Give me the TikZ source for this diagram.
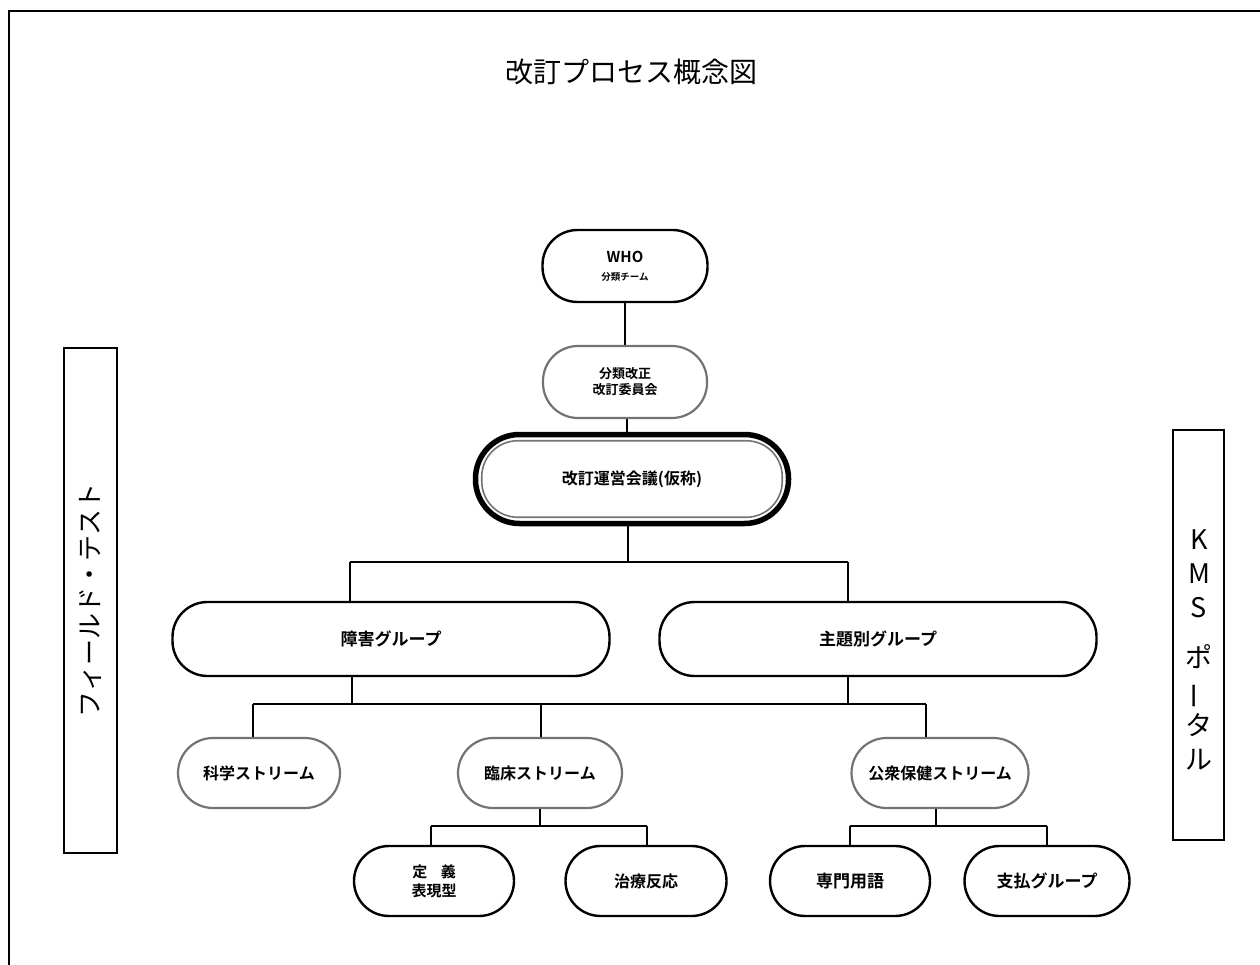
\documentclass[tikz,border=0pt]{standalone}
\usepackage{fontspec}
\usepackage{graphicx}
\setmainfont{Noto Sans CJK JP}[BoldFont={Noto Sans CJK JP Bold}]
\begin{document}
\begin{tikzpicture}[x=1pt,y=-1pt,
  pill/.style={draw=black, line width=2.4pt, rounded corners=35pt, inner sep=0pt, align=center, font=\bfseries\fontsize{16}{20}\selectfont},
  graypill/.style={pill, draw=black!55, line width=2.2pt},
  conn/.style={draw=black, line width=1.4pt},
  sidebox/.style={draw=black, line width=1.4pt, inner sep=0pt, align=center}
]
\useasboundingbox (0,0) rectangle (1260,965);
% frame
\coordinate (ftl) at (9,11);
\coordinate (ftr) at (1260,11);
\coordinate (fbl) at (9,965);
\draw[line width=2.2pt] (ftr) -- (ftl) -- (fbl);

\node[font=\fontsize{28}{32}\selectfont] (title) at (631,72) {改訂プロセス概念図};

\node[pill, minimum width=165pt, minimum height=72pt] (who) at (625,266)
  {{\fontsize{15}{17}\selectfont WHO}\\[-2pt]{\fontsize{9.5}{12}\selectfont 分類チーム}};
\node[graypill, minimum width=164pt, minimum height=72pt, font=\bfseries\fontsize{13}{16}\selectfont] (iinkai) at (625,382)
  {分類改正\\改訂委員会};
\node[pill, line width=5.5pt, minimum width=313pt, minimum height=89pt, rounded corners=44pt] (unei) at (632,479)
  {改訂運営会議(仮称)};
\draw[black!55, line width=1.6pt, rounded corners=36pt]
  ([shift={(9,9)}]unei.north west) rectangle ([shift={(-9,-9)}]unei.south east);

\node[pill, minimum width=437pt, minimum height=74pt, font=\bfseries\fontsize{17}{20}\selectfont] (shogai) at (391,639) {障害グループ};
\node[pill, minimum width=437pt, minimum height=74pt, font=\bfseries\fontsize{17}{20}\selectfont] (shudai) at (878,639) {主題別グループ};

\node[graypill, minimum width=162pt, minimum height=70pt] (kagaku) at (259,773) {科学ストリーム};
\node[graypill, minimum width=164pt, minimum height=70pt] (rinsho) at (540,773) {臨床ストリーム};
\node[graypill, minimum width=177pt, minimum height=70pt] (koshu) at (940,773) {公衆保健ストリーム};

\node[pill, minimum width=160pt, minimum height=70pt, font=\bfseries\fontsize{15}{19}\selectfont] (teigi) at (434,881) {定\hspace{0.9em}義\\表現型};
\node[pill, minimum width=161pt, minimum height=70pt] (chiryo) at (646,881) {治療反応};
\node[pill, minimum width=160pt, minimum height=70pt, font=\bfseries\fontsize{17}{20}\selectfont] (senmon) at (850,881) {専門用語};
\node[pill, minimum width=165pt, minimum height=70pt, font=\bfseries\fontsize{17}{20}\selectfont] (shiharai) at (1047,881) {支払グループ};

\node[sidebox, rotate=90, minimum width=505pt, minimum height=53pt, font=\fontsize{26}{30}\selectfont] (field) at (90.5,600.5) {フィールド・テスト};
\node[sidebox, minimum width=51pt, minimum height=410pt] (kmsbox) at (1198.5,635) {};
\node[font=\fontsize{27}{34}\selectfont, align=center, inner sep=0pt] (kms) at (1199,650)
  {K\\M\\S\\[16pt]ポ\\\rotatebox[origin=c]{90}{ー}\\タ\\ル};

% connectors
\draw[conn] (who.south) -- (iinkai.north);
\draw[conn] (iinkai.south -| 627,0) -- (unei.north -| 627,0);
\coordinate (j1) at (628,562);
\coordinate (j1l) at (350,562);
\coordinate (j1r) at (848,562);
\draw[conn] (unei.south -| j1) -- (j1);
\draw[conn] (j1l) -- (j1r);
\draw[conn] (j1l) -- (shogai.north -| j1l);
\draw[conn] (j1r) -- (shudai.north -| j1r);

\coordinate (j2a) at (352,704);
\coordinate (j2b) at (848,704);
\coordinate (j2l) at (253,704);
\coordinate (j2m) at (541,704);
\coordinate (j2r) at (926,704);
\draw[conn] (shogai.south -| j2a) -- (j2a);
\draw[conn] (shudai.south -| j2b) -- (j2b);
\draw[conn] (j2l) -- (j2r);
\draw[conn] (j2l) -- (kagaku.north -| j2l);
\draw[conn] (j2m) -- (rinsho.north -| j2m);
\draw[conn] (j2r) -- (koshu.north -| j2r);

\coordinate (j3) at (540,826);
\coordinate (j3l) at (431,826);
\coordinate (j3r) at (647,826);
\draw[conn] (rinsho.south -| j3) -- (j3);
\draw[conn] (j3l) -- (j3r);
\draw[conn] (j3l) -- (teigi.north -| j3l);
\draw[conn] (j3r) -- (chiryo.north -| j3r);

\coordinate (j4) at (936,826);
\coordinate (j4l) at (850,826);
\coordinate (j4r) at (1047,826);
\draw[conn] (koshu.south -| j4) -- (j4);
\draw[conn] (j4l) -- (j4r);
\draw[conn] (j4l) -- (senmon.north -| j4l);
\draw[conn] (j4r) -- (shiharai.north -| j4r);
\end{tikzpicture}
\end{document}
